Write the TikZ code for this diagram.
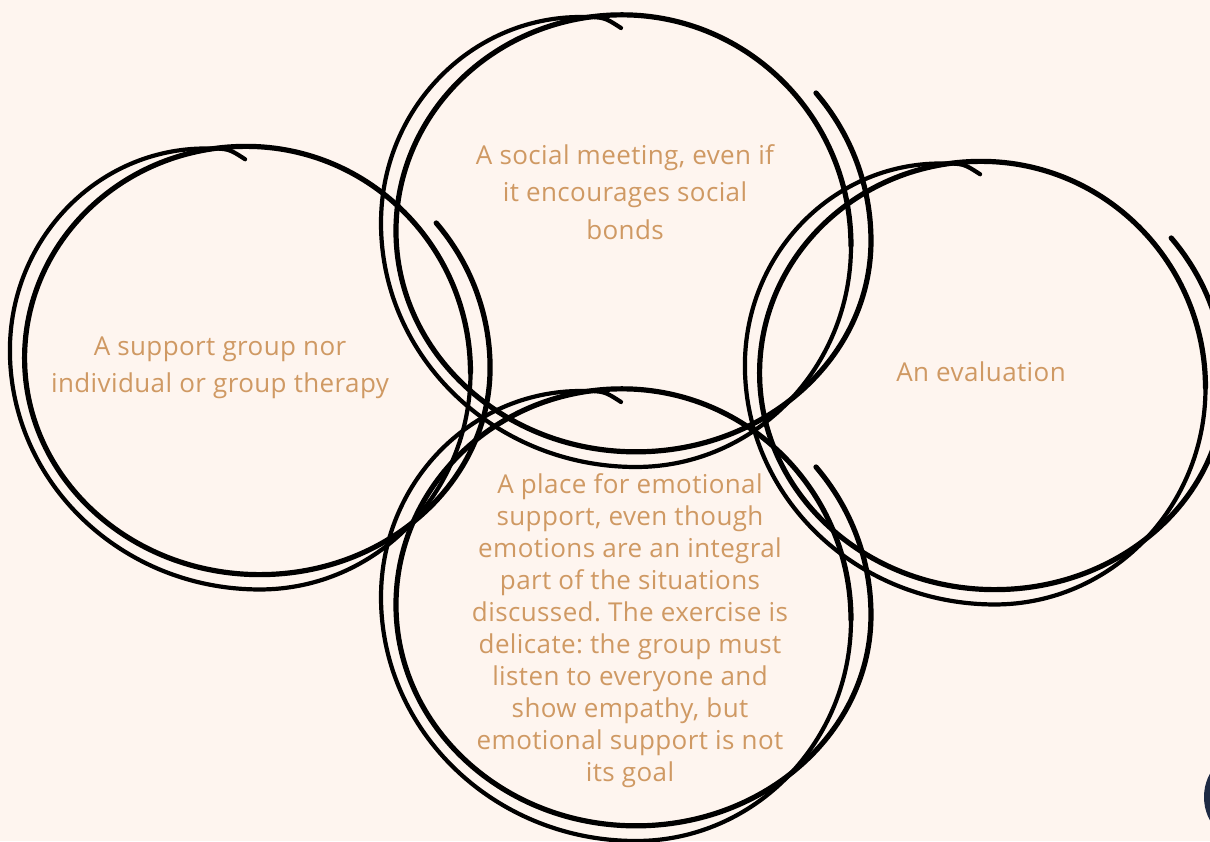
\documentclass[tikz,border=0pt]{standalone}
\usepackage{fontspec}
\setmainfont[LetterSpace=1.5]{Open Sans}
\usepackage{tikz}
\frenchspacing

\definecolor{paper}{RGB}{254,245,239}
\definecolor{sand}{RGB}{207,153,99}
\definecolor{navy}{RGB}{30,42,68}

\tikzstyle{pen}=[draw=black, line cap=round, line width=2.6pt]
\tikzstyle{thinpen}=[draw=black, line cap=round, line width=2.1pt]
\tikzstyle{caption}=[text=sand, align=center, inner sep=0pt, font=\fontsize{13}{18.7}\selectfont]
\tikzstyle{longcaption}=[caption, font=\fontsize{13}{16}\selectfont]

% hand drawn ring, two turns around its centre
\tikzset{scribble/.pic={
	% first turn, from the loose end on the upper right
	\path[pen] (190,148) arc[start angle=40, end angle=0, x radius=235, y radius=230]
		arc[start angle=0, end angle=-90, x radius=235, y radius=211]
		arc[start angle=-90, end angle=-180, x radius=240, y radius=221]
		arc[start angle=-180, end angle=-270, x radius=226, y radius=216]
		arc[start angle=-270, end angle=-360, x radius=229, y radius=231];
	% second turn, ends in the short tail on top
	\path[thinpen] (225,-5) arc[start angle=0, end angle=-90, x radius=215, y radius=221]
		arc[start angle=-90, end angle=-180, x radius=255, y radius=244]
		arc[start angle=-180, end angle=-270, x radius=200, y radius=206]
		.. controls (-22,224) .. (-5,213);
}}

\begin{document}
\begin{tikzpicture}[x=0.5pt, y=0.5pt]
	\useasboundingbox (0,0) rectangle (1210,841);
	\fill[paper] (0,0) rectangle (1210,841);
	\clip (0,0) rectangle (1210,841);

	\coordinate (left) at (250,473);
	\coordinate (top) at (626,600);
	\coordinate (right) at (985,458);
	\coordinate (bottom) at (626,226);

	\pic[scale=0.98] at (left) {scribble};
	\pic at (top) {scribble};
	\pic[scale=0.98] at (right) {scribble};
	\pic at (bottom) {scribble};

	\node[caption] (therapy) at (220,473) {A support group nor\\individual or group therapy};
	\node[caption] (social) at (625,649) {A social meeting, even if\\it encourages social\\bonds};
	\node[caption] (evaluation) at (981,469) {An evaluation};
	\node[longcaption] (emotion) at (630,210) {A place for emotional\\support, even though\\emotions are an integral\\part of the situations\\discussed. The exercise is\\delicate: the group must\\listen to everyone and\\show empathy, but\\emotional support is not\\its goal};

	% chat button peeking in at the corner
	\fill[navy] (1253,44) circle (49);
\end{tikzpicture}
\end{document}
